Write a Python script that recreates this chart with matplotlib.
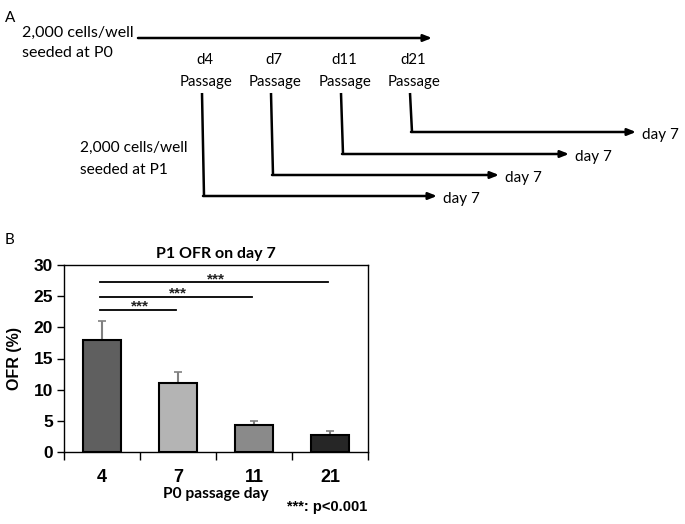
import matplotlib
matplotlib.use("Agg")
import matplotlib.pyplot as plt
import numpy as np

# ---------------- data ----------------
categories = ["4", "7", "11", "21"]
ofr_mean = [18.0, 11.0, 4.4, 2.8]
ofr_err = [3.0, 1.8, 0.5, 0.6]
bar_colors = ["#5f5f5f", "#b4b4b4", "#8a8a8a", "#262626"]
sig_pairs = [(0, 1), (0, 2), (0, 3)]
sig_heights = [22.8, 24.9, 27.2]
sig_labels = ["***", "***", "***"]
y_ticks = [0, 5, 10, 15, 20, 25, 30]

# panel A diagram content
passage_labels = ["d4", "d7", "d11", "d21"]
passage_x = [203, 272, 342, 411]
branch_y = [196, 175, 154, 132]
branch_end = [437, 499, 569, 636]

W, H = 685, 524
fig = plt.figure(figsize=(W / 100, H / 100), dpi=100)

calibri = ["Lato", "DejaVu Sans"]
arial = ["Liberation Sans", "DejaVu Sans"]

# ---------------- Panel A (diagram) ----------------
axA = fig.add_axes([0, 0, 1, 1])
axA.set_xlim(0, W)
axA.set_ylim(H, 0)
axA.axis("off")

axA.text(10, 18, "A", fontsize=11, family=calibri, va="center", ha="center")
axA.text(22, 33, "2,000 cells/well", fontsize=11.5, family=calibri, va="center")
axA.text(22, 53, "seeded at P0", fontsize=11.5, family=calibri, va="center")
axA.annotate("", xy=(432, 38), xytext=(138, 38),
             arrowprops=dict(arrowstyle="-|>,head_length=0.5,head_width=0.2",
                             lw=1.8, color="black", shrinkA=0, shrinkB=0))

for lab, px in zip(passage_labels, passage_x):
    axA.text(px + 2, 60, lab, fontsize=10.8, family=calibri, ha="center", va="center")
    axA.text(px + 3, 82, "Passage", fontsize=10.8, family=calibri, ha="center", va="center")

for px, by, be in zip(passage_x, branch_y, branch_end):
    axA.plot([px - 1, px + 1], [93, by], color="black", lw=1.8, solid_capstyle="butt")
    axA.annotate("", xy=(be, by), xytext=(px, by),
                 arrowprops=dict(arrowstyle="-|>,head_length=0.5,head_width=0.2",
                                 lw=1.8, color="black", shrinkA=0, shrinkB=0))
    axA.text(be + 6, by + 3, "day 7", fontsize=11, family=calibri, ha="left", va="center")

axA.text(80, 148, "2,000 cells/well", fontsize=11.2, family=calibri, va="center")
axA.text(80, 170, "seeded at P1", fontsize=11.2, family=calibri, va="center")

axA.text(10, 240, "B", fontsize=11, family=calibri, va="center", ha="center")

# ---------------- Panel B (bar chart) ----------------
left, right, top, bottom = 64, 368, 265, 452
axB = fig.add_axes([left / W, 1 - bottom / H, (right - left) / W, (bottom - top) / H])
x = np.arange(len(categories))
axB.bar(x, ofr_mean, width=0.5, color=bar_colors, edgecolor="black", linewidth=1.5,
        zorder=2)
axB.errorbar(x, ofr_mean, yerr=[np.zeros(len(ofr_err)), ofr_err], fmt="none",
             ecolor="#808080", elinewidth=1.5, capsize=3, capthick=1.2, zorder=1)

for (i, j), h, lab in zip(sig_pairs, sig_heights, sig_labels):
    axB.plot([x[i] - 0.02, x[j] - 0.02], [h, h], color="black", lw=1.3)
    axB.annotate(lab, xy=((x[i] + x[j]) / 2, h), xytext=(0, -0.5),
                 textcoords="offset points", ha="center", va="baseline",
                 fontsize=11, family=arial, fontweight="bold", color="#222222")

axB.set_xlim(-0.5, len(categories) - 0.5)
axB.set_ylim(0, 30)
axB.set_yticks(y_ticks)
axB.set_yticklabels([str(v) for v in y_ticks], family=arial, fontweight="bold",
                    fontsize=12.5)
axB.set_xticks(x)
axB.set_xticklabels(categories, family=arial, fontweight="bold", fontsize=13)
axB.set_xticks(np.arange(-0.5, len(categories)), minor=True)
axB.tick_params(axis="x", which="major", length=0, pad=12)
axB.tick_params(axis="x", which="minor", length=6, direction="out", width=1)
axB.tick_params(axis="y", length=5, direction="out", width=1, pad=3)
for sp in axB.spines.values():
    sp.set_linewidth(1.0)
    sp.set_color("black")

axB.set_title("P1 OFR on day 7", family=calibri, fontweight="bold", fontsize=11.5,
              pad=5)
axB.set_ylabel("OFR (%)", family=arial, fontweight="bold", fontsize=11.5, labelpad=8)
axB.set_xlabel("P0 passage day", family=calibri, fontweight="bold", fontsize=11.2,
               labelpad=1)

fig.text(367 / W, 1 - 507 / H, "***: p<0.001", family=arial, fontweight="bold",
         fontsize=10.5, ha="right", va="center")

fig.savefig("out.png", dpi=100)
